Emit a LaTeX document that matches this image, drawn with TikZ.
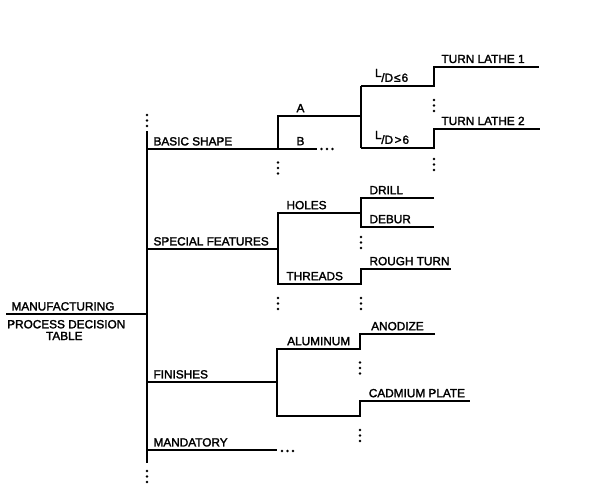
\documentclass[tikz,border=0pt]{standalone}
\usepackage{fontspec}
\usetikzlibrary{calc}
\newfontfamily\lettering[FakeBold=2]{Liberation Sans}

\begin{document}
\begin{tikzpicture}[x=1pt,y=-1pt,line width=1.1pt,
	lbl/.style={anchor=base west,inner sep=0pt,font=\lettering\fontsize{11.8}{12}\selectfont},
	vellip/.pic={\foreach \d in {0,5.5,11} \fill (0,\d) circle[radius=1.4pt];},
	hellip/.pic={\foreach \d in {0,5.5,11} \fill (\d,0) circle[radius=1.4pt];}]
	\useasboundingbox (0,0) rectangle (595,487);
	\coordinate (root) at (6,314);
	\coordinate (main) at (147,314);
	\coordinate (maintop) at (147,131);
	\coordinate (mainbot) at (147,463);
	\coordinate (basic) at (147,149);
	\coordinate (special) at (147,249);
	\coordinate (finish) at (147,382);
	\coordinate (mand) at (147,450);
	\coordinate (mandend) at (277,450);
	\coordinate (bsA) at (278,116);
	\coordinate (bsB) at (278,149);
	\coordinate (bsBend) at (317,149);
	\coordinate (ld) at (361,116);
	\coordinate (ldle) at (361,86);
	\coordinate (ldgt) at (361,148);
	\coordinate (tlone) at (434,86);
	\coordinate (tlonetop) at (434,67);
	\coordinate (tloneend) at (539,67);
	\coordinate (tltwo) at (434,148);
	\coordinate (tltwotop) at (434,129);
	\coordinate (tltwoend) at (540,129);
	\coordinate (sfholes) at (278,213);
	\coordinate (sfmid) at (278,249);
	\coordinate (sfthreads) at (278,284);
	\coordinate (drill) at (361,198);
	\coordinate (drillend) at (434,198);
	\coordinate (debur) at (361,227);
	\coordinate (deburend) at (434,227);
	\coordinate (rough) at (361,269);
	\coordinate (roughend) at (451,269);
	\coordinate (threadsend) at (361,284);
	\coordinate (holesend) at (361,213);
	\coordinate (alum) at (277,349);
	\coordinate (fimid) at (277,382);
	\coordinate (alumend) at (360,349);
	\coordinate (cadm) at (277,416);
	\coordinate (cadmend) at (360,416);
	\coordinate (anod) at (360,334);
	\coordinate (anodend) at (435,334);
	\coordinate (plate) at (360,401);
	\coordinate (plateend) at (470,401);
	\draw (root) -- (main);
	\draw (maintop) -- (mainbot);
	\draw (basic) -- (bsBend);
	\draw (bsB) -- (bsA) -- (ld);
	\draw (ldle) -- (ldgt);
	\draw (ldle) -- (tlone) -- (tlonetop) -- (tloneend);
	\draw (ldgt) -- (tltwo) -- (tltwotop) -- (tltwoend);
	\draw (special) -- (sfmid);
	\draw (holesend) -- (sfholes) -- (sfthreads) -- (threadsend) -- (rough) -- (roughend);
	\draw (drillend) -- (drill) -- (debur) -- (deburend);
	\draw (finish) -- (fimid);
	\draw (anodend) -- (anod) -- (alumend) -- (alum) -- (cadm) -- (cadmend) -- (plate) -- (plateend);
	\draw (mand) -- (mandend);
	\pic at ($(maintop)+(0,-16)$) {vellip};
	\pic at ($(mainbot)+(0,8)$) {vellip};
	\pic at ($(bsB)+(0,13.5)$) {vellip};
	\pic at ($(bsBend)+(4.5,0)$) {hellip};
	\pic at ($(tlone)+(0,14)$) {vellip};
	\pic at ($(tltwo)+(0,11)$) {vellip};
	\pic at ($(sfthreads)+(0,14)$) {vellip};
	\pic at ($(debur)+(0,10)$) {vellip};
	\pic at ($(threadsend)+(0,14)$) {vellip};
	\pic at ($(alumend)+(0,13.5)$) {vellip};
	\pic at ($(cadmend)+(0,14)$) {vellip};
	\pic at ($(mandend)+(5,1)$) {hellip};
	\node[lbl] (manuf) at ($(root)+(5,-3.6)$) {MANUFACTURING};
	\node[lbl] (process) at ($(root)+(0.7,14.3)$) {PROCESS DECISION};
	\node[lbl,anchor=base] (table) at ($(root)+(58.3,26)$) {TABLE};
	\node[lbl] (lblbasic) at ($(basic)+(6,-3.6)$) {BASIC SHAPE};
	\node[lbl] (lbla) at ($(bsA)+(18,-3.8)$) {A};
	\node[lbl] (lblb) at ($(bsB)+(18,-3.8)$) {B};
	\node[lbl] (lblle) at ($(ldle)+(13.5,-4.2)$) {\raisebox{4.8pt}{L}\kern-0.3pt/D\kern1pt≤\kern1pt6};
	\node[lbl] (lblgt) at ($(ldgt)+(13.5,-4.2)$) {\raisebox{4.8pt}{L}\kern-0.3pt/D\kern1.5pt>\kern1pt6};
	\node[lbl] (lbltlone) at ($(tlonetop)+(7,-4)$) {TURN LATHE 1};
	\node[lbl] (lbltltwo) at ($(tltwotop)+(7,-4)$) {TURN LATHE 2};
	\node[lbl] (lblspecial) at ($(special)+(6,-3.6)$) {SPECIAL FEATURES};
	\node[lbl] (lblholes) at ($(sfholes)+(8,-3.8)$) {HOLES};
	\node[lbl] (lblthreads) at ($(sfthreads)+(8,-3.8)$) {THREADS};
	\node[lbl] (lbldrill) at ($(drill)+(8,-3.8)$) {DRILL};
	\node[lbl] (lbldebur) at ($(debur)+(8,-3.8)$) {DEBUR};
	\node[lbl] (lblrough) at ($(rough)+(8,-3.8)$) {ROUGH TURN};
	\node[lbl] (lblfinish) at ($(finish)+(6,-3.6)$) {FINISHES};
	\node[lbl] (lblalum) at ($(alum)+(9.7,-3.8)$) {ALUMINUM};
	\node[lbl] (lblanod) at ($(anod)+(10.7,-3.8)$) {ANODIZE};
	\node[lbl] (lblplate) at ($(plate)+(8.3,-3.8)$) {CADMIUM PLATE};
	\node[lbl] (lblmand) at ($(mand)+(6,-3.6)$) {MANDATORY};
\end{tikzpicture}
\end{document}
